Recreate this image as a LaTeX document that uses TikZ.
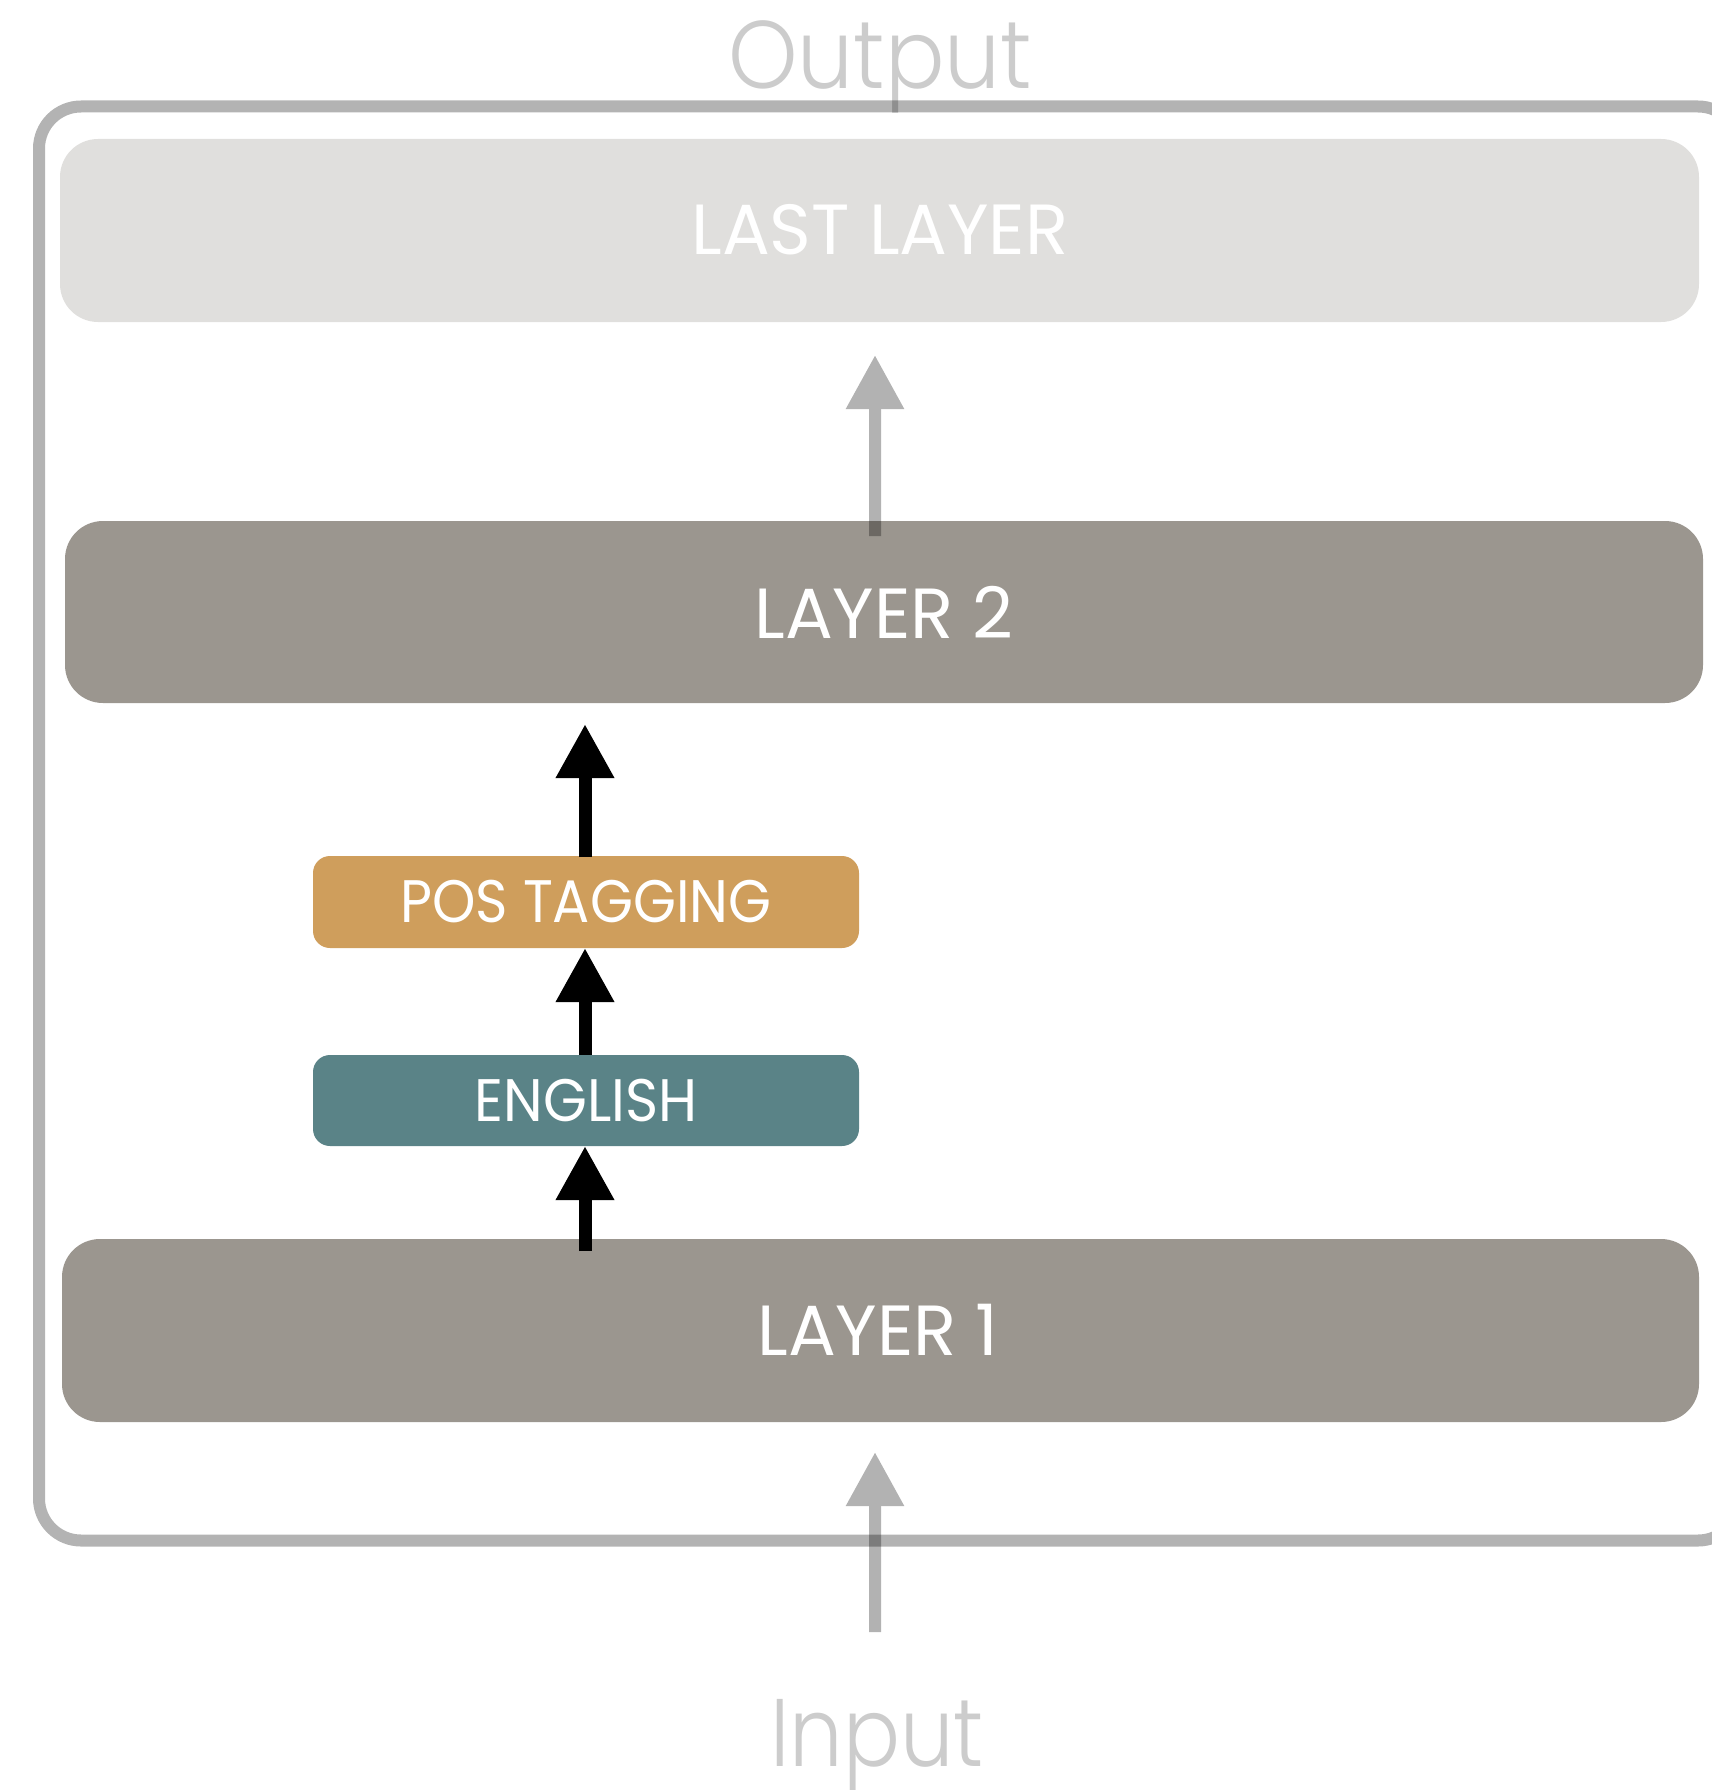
\documentclass[tikz,border=0pt]{standalone}
\usepackage{fontspec}
\setmainfont{Poppins}
\newfontfamily\thinfont{Poppins}[UprightFont={* Light}]
\usetikzlibrary{arrows.meta}
\definecolor{framegray}{HTML}{B3B3B3}
\definecolor{layergray}{HTML}{9B968F}
\definecolor{lastgray}{HTML}{E0DFDD}
\definecolor{posgold}{HTML}{CF9E5C}
\definecolor{engteal}{HTML}{5A8387}
\newcommand{\narrow}[2]{\scalebox{#1}[1]{#2}}
\tikzset{
  layerbox/.style={fill=layergray, rounded corners=38pt},
  taskbox/.style={rounded corners=17pt},
  boxlabel/.style={text=white, font=\fontsize{71}{71}\selectfont},
  tasklabel/.style={text=white, font=\fontsize{60}{60}\selectfont},
  iolabel/.style={text=black, text opacity=0.2, font=\thinfont\fontsize{96}{96}\selectfont, anchor=base},
  flow/.style={line width=13pt, -{Triangle[width=55pt,length=54pt]}},
}
\begin{document}
\begin{tikzpicture}[x=1pt, y=-1pt]
\useasboundingbox (0,0) rectangle (1712,1790);

% outer frame of the network
\draw[framegray, line width=12pt, rounded corners=42pt] (39,106.5) rectangle (1740,1540.5);

% layers
\path[fill=lastgray, rounded corners=38pt] (60,139) rectangle (1699,322);
\node[boxlabel] (last) at (880,230) {LAST LAYER};
\path[layerbox] (65,521) rectangle (1703,703);
\node[boxlabel] (l2) at (884,612) {LAYER 2};
\path[layerbox] (62,1239) rectangle (1699,1422);
\node[boxlabel] (l1) at (878,1330) {LAYER 1};

% probing tasks
\path[taskbox, fill=posgold] (313,856) rectangle (859,948);
\node[tasklabel] (pos) at (586,902) {\narrow{0.92}{POS TAGGING}};
\path[taskbox, fill=engteal] (313,1055) rectangle (859,1146);
\node[tasklabel] (eng) at (586,1100.5) {\narrow{0.94}{ENGLISH}};

% anchor points on the box edges
\coordinate (l1top) at (585,1251);
\coordinate (engbot) at (585,1146);
\coordinate (engtop) at (585,1055);
\coordinate (posbot) at (585,948);
\coordinate (postop) at (585,857);
\coordinate (l2tip) at (585,724);
\coordinate (l2out) at (875,536);
\coordinate (lasttip) at (875,355);
\coordinate (inbot) at (875,1632);
\coordinate (intip) at (875,1452);

% black probing arrows
\draw[flow] (l1top) -- (engbot);
\draw[flow] (engtop) -- (posbot);
\draw[flow] (postop) -- (l2tip);

% translucent grey arrows
\begin{scope}[transparency group, opacity=0.3]
\draw[flow, line width=12pt] (l2out) -- (lasttip);
\end{scope}
\begin{scope}[transparency group, opacity=0.3]
\draw[flow, line width=12pt] (inbot) -- (intip);
\end{scope}

% input and output labels
\node[iolabel] (out) at (880,89) {\narrow{0.92}{Output}};
\node[iolabel] (in) at (877,1766) {\narrow{0.88}{Input}};
\end{tikzpicture}
\end{document}
